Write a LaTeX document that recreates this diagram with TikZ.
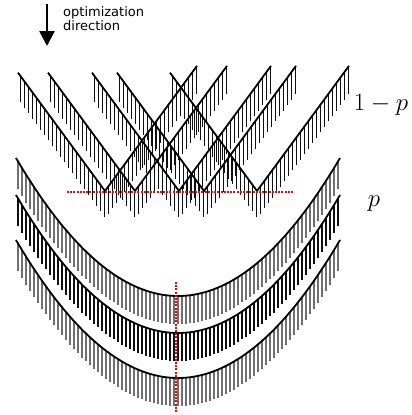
\documentclass[tikz,border=0pt]{standalone}
\usepackage{fontspec}
\setsansfont{DejaVu Sans}
\usetikzlibrary{arrows.meta}
\definecolor{hatchdark}{HTML}{101010}
\definecolor{hatchlight}{HTML}{707070}
\definecolor{minline}{HTML}{FF0000}
\tikzset{
  curve/.style={draw=black, line width=1.8pt},
  hdark/.style={draw=hatchdark, line width=1.2pt},
  hvee/.style={draw=hatchdark, line width=0.9pt},
  hlight/.style={draw=hatchlight, line width=1.05pt},
  minmark/.style={draw=minline, line width=1.1pt, dash pattern=on 2pt off 1.2pt},
  dirarrow/.style={-{Triangle[length=15pt, width=15pt]}, line width=2.6pt, draw=black},
  dirtext/.style={font=\sffamily\fontsize{13}{14.5}\selectfont, align=left, inner sep=0pt, anchor=north west},
  problabel/.style={font=\fontsize{24}{28}\selectfont},
}

\begin{document}
\begin{tikzpicture}[x=1pt, y=-1pt]
\useasboundingbox (0,0) rectangle (412,415);

% ===== Direction marker =====
\coordinate (dirtop) at (47,4);
\coordinate (dirtip) at (47,46);
\draw[dirarrow] (dirtop) -- (dirtip);
\node[dirtext] (dirlabel) at (63,6) {optimization\\direction};

% ===== V-shaped losses (1-p) =====
\foreach \c in {105,135,179,204,257} {
  \foreach \i in {0,...,44} {
    \pgfmathsetmacro\hx{\c-85+4*\i}
    \pgfmathsetmacro\hy{191-1.36*abs(\hx-\c)}
    \draw[hvee] (\hx,\hy) -- ++(0,27);
  }
  \draw[curve] (\c-87,{191-1.36*87}) -- (\c,191) -- (\c+92,{191-1.36*92});
}
\draw[minmark] (67,192) -- (293,192);
\node[problabel] (oneminusp) at (381,105) {$1-p$};

% ===== Quadratic losses (p) =====
\foreach \yv/\sty in {296/hlight, 333/hdark, 378/hlight} {
  \foreach \i in {0,...,80} {
    \pgfmathsetmacro\hx{18+4*\i}
    \pgfmathsetmacro\hy{\yv-138*((\hx-178)/162)*((\hx-178)/162)}
    \draw[\sty] (\hx,\hy) -- ++(0,28);
  }
  \draw[curve] plot[domain=16:340, samples=90] (\x,{\yv-138*((\x-178)/162)*((\x-178)/162)});
}
\draw[minmark] (176,282) -- (176,412);
\node[problabel] (plabel) at (374,204) {$p$};

\end{tikzpicture}
\end{document}
